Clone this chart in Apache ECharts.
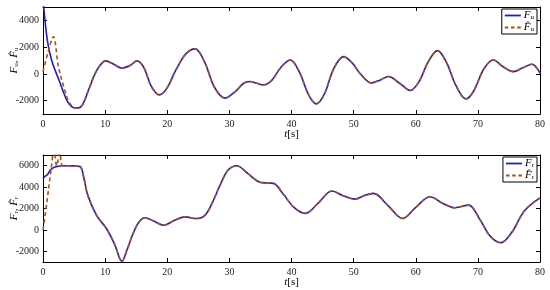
<!DOCTYPE html>
<html lang="en">
<head>
    <meta charset="UTF-8">
    <title>F_u / F_r</title>
    <script src="https://cdn.jsdelivr.net/npm/echarts@6/dist/echarts.min.js"></script>
    <style>
        html, body { margin: 0; padding: 0; background: #fff; }
        #chart { width: 550px; height: 290px; }
    </style>
</head>
<body>
    <div id="chart"></div>
    <script>
        // ---- data ----
        // top panel: F_u (solid) and its estimate (dashed); both share the tail
        const uHeadT = [0, 0.7, 1.4, 2.6, 3.8, 4.6];
        const uHeadV = [5600, 2500, 1000, -500, -1940, -2450];
        const uHatHeadT = [0, 0.8, 1.66, 2.5, 3.5, 4.3];
        const uHatHeadV = [150, 1600, 2780, 500, -1200, -2200];
        const uTailT = [5.4, 6.3, 7.5, 8.7, 10.1, 11.4, 12.7, 14, 15.1, 16.2, 17.4, 18.7, 19.9, 21.3, 23, 24.5,
            26, 27.6, 29.3, 31, 32.3, 33.3, 34.4, 35.5, 36.8, 38.3, 39.8, 41.2, 42.8, 44, 45.3, 46.8, 48.4,
            49.8, 51, 52.9, 54.3, 55.6, 57.4, 59.1, 60.5, 62, 63.5, 64.9, 66.5, 68.1, 69.3, 71, 72.5, 74,
            75.7, 77.2, 78.7, 80];
        const uTailV = [-2560, -2350, -1000, 300, 970, 720, 430, 620, 970, 500, -900, -1570, -1100, 200, 1500, 1870,
            900, -1000, -1810, -1300, -700, -570, -700, -820, -500, 500, 1040, 200, -1600, -2240, -1500, 400, 1290,
            800, 50, -680, -450, -200, -700, -1240, -600, 900, 1740, 900, -900, -1870, -1300, 400, 1040, 550,
            170, 450, 720, 50];

        // bottom panel: F_r (solid) and its estimate (dashed)
        const rHeadT = [0, 0.3, 0.7, 1.2, 1.8, 3];
        const rHeadV = [4800, 5000, 5150, 5600, 5850, 6000];
        const rHatHeadT = [0, 0.6, 1.2, 1.8, 2.2, 2.7, 3.2];
        const rHatHeadV = [0, 2500, 5200, 7400, 6000, 7200, 6000];
        const rTailT = [5, 6, 6.6, 7.2, 8.6, 10.2, 11.5, 12.7, 13.5, 14.5, 15.4, 16.4, 17.9, 19.4, 21.2, 22.9,
            24.7, 26.1, 27.3, 28.5, 29.8, 31.2, 32.9, 34.7, 36, 37.1, 38.6, 40.4, 42.2, 44.3, 46.5, 48.3,
            50.2, 51.7, 53.2, 55.5, 57.9, 60, 62.3, 64.3, 66.3, 68.5, 70.3, 72, 73.7, 75.5, 77.5, 80];
        const rTailV = [5980, 5900, 4800, 3250, 1380, 130, -1300, -2930, -1900, -340, 700, 1130, 800, 440, 900, 1220,
            1060, 1380, 2600, 4180, 5600, 6000, 5300, 4500, 4380, 4350, 3400, 2100, 1540, 2500, 3630, 3200,
            2880, 3200, 3410, 2300, 1070, 2100, 3100, 2500, 2070, 2320, 1000, -600, -1200, -200, 1800, 3000];

        const xTicks = [0, 10, 20, 30, 40, 50, 60, 70, 80];
        const uTicks = [-2000, 0, 2000, 4000];
        const rTicks = [-2000, 0, 2000, 4000, 6000];

        function pairs(ts, vs) {
            return ts.map((t, i) => [t, vs[i]]);
        }

        const blue = '#1e1ec0';
        const brown = '#a8521e';
        const font = 'Liberation Serif';

        const rich = {
            i: { fontFamily: font, fontStyle: 'italic', fontSize: 11, color: '#000' },
            s: { fontFamily: font, fontSize: 7, color: '#000', verticalAlign: 'bottom', padding: [4, 0, 0, 0] },
            n: { fontFamily: font, fontSize: 11, color: '#000' }
        };

        function xAxes(gridIndex) {
            return [{
                gridIndex: gridIndex, type: 'value', min: 0, max: 80, interval: 10,
                name: '{i|t}{n|[s]}', nameLocation: 'middle', nameGap: 15, nameMoveOverlap: false,
                nameTextStyle: { rich: rich },
                axisLine: { onZero: false, lineStyle: { color: '#000', width: 1 } },
                axisTick: { inside: true, length: 4, customValues: xTicks, lineStyle: { color: '#000' } },
                axisLabel: { fontFamily: font, fontSize: 10, color: '#222', margin: 5, customValues: xTicks },
                splitLine: { show: false }
            }, {
                gridIndex: gridIndex, type: 'value', min: 0, max: 80, interval: 10, position: 'top',
                axisLine: { onZero: false, lineStyle: { color: '#000', width: 1 } },
                axisTick: { inside: true, length: 4, customValues: xTicks, lineStyle: { color: '#000' } },
                axisLabel: { show: false },
                splitLine: { show: false }
            }];
        }

        function yAxes(gridIndex, min, max, ticks, nameText) {
            return [{
                gridIndex: gridIndex, type: 'value', min: min, max: max,
                name: nameText, nameLocation: 'middle', nameGap: 23, nameRotate: 90, nameMoveOverlap: false,
                nameTextStyle: { rich: rich },
                axisLine: { onZero: false, lineStyle: { color: '#000', width: 1 } },
                axisTick: { inside: true, length: 4, customValues: ticks, lineStyle: { color: '#000' } },
                axisLabel: {
                    fontFamily: font, fontSize: 10, color: '#222', margin: 4,
                    customValues: ticks, formatter: v => String(v)
                },
                splitLine: { show: false }
            }, {
                gridIndex: gridIndex, type: 'value', min: min, max: max, position: 'right',
                axisLine: { onZero: false, lineStyle: { color: '#000', width: 1 } },
                axisTick: { inside: true, length: 4, customValues: ticks, lineStyle: { color: '#000' } },
                axisLabel: { show: false },
                splitLine: { show: false }
            }];
        }

        function lineSeries(name, data, xi, yi, color, dashed) {
            return {
                name: name, type: 'line', xAxisIndex: xi, yAxisIndex: yi,
                data: data, smooth: 0.35, showSymbol: false, symbol: 'none',
                clip: true, animation: false,
                lineStyle: { color: color, width: 1.6, type: dashed ? [4, 3] : 'solid' },
                itemStyle: { color: color },
                z: dashed ? 3 : 2
            };
        }

        const legendText = {
            'Fu': '{i|F}{s|u}',
            'Fu_hat': '{i|F\u0302}{s|u}',
            'Fr': '{i|F}{s|r}',
            'Fr_hat': '{i|F\u0302}{s|r}'
        };
        const solidIcon = 'path://M0,0h18v2h-18z';
        const dashIcon = 'path://M0,0h4v2h-4zM7,0h4v2h-4zM14,0h4v2h-4z';

        function legend(names, top) {
            return {
                data: [
                    { name: names[0], icon: solidIcon, itemStyle: { color: blue } },
                    { name: names[1], icon: dashIcon, itemStyle: { color: brown } }
                ],
                orient: 'vertical', right: 13, top: top,
                backgroundColor: '#fff', borderColor: '#000', borderWidth: 1,
                padding: [1, 3, 1, 3], itemGap: 1, itemWidth: 16, itemHeight: 2,
                formatter: n => legendText[n],
                textStyle: { rich: rich, padding: [0, 0, 0, -2] }
            };
        }

        const option = {
            backgroundColor: '#fff',
            animation: false,
            grid: [
                { left: 43, right: 10, top: 7, height: 107, outerBoundsMode: 'none', containLabel: false },
                { left: 43, right: 10, top: 155, height: 107, outerBoundsMode: 'none', containLabel: false }
            ],
            xAxis: xAxes(0).concat(xAxes(1)),
            yAxis: yAxes(0, -3000, 5000, uTicks, '{i|F}{s|u}{n|, }{i|F\u0302}{s|u}')
                .concat(yAxes(1, -3000, 7000, rTicks, '{i|F}{s|r}{n|, }{i|F\u0302}{s|r}')),
            legend: [legend(['Fu', 'Fu_hat'], 9), legend(['Fr', 'Fr_hat'], 157)],
            series: [
                lineSeries('Fu', pairs(uHeadT.concat(uTailT), uHeadV.concat(uTailV)), 0, 0, blue, false),
                lineSeries('Fu_hat', pairs(uHatHeadT.concat(uTailT), uHatHeadV.concat(uTailV)), 0, 0, brown, true),
                lineSeries('Fr', pairs(rHeadT.concat(rTailT), rHeadV.concat(rTailV)), 2, 2, blue, false),
                lineSeries('Fr_hat', pairs(rHatHeadT.concat(rTailT), rHatHeadV.concat(rTailV)), 2, 2, brown, true)
            ]
        };

        const chart = echarts.init(document.getElementById('chart'));
        chart.setOption(option);
    </script>
</body>
</html>
